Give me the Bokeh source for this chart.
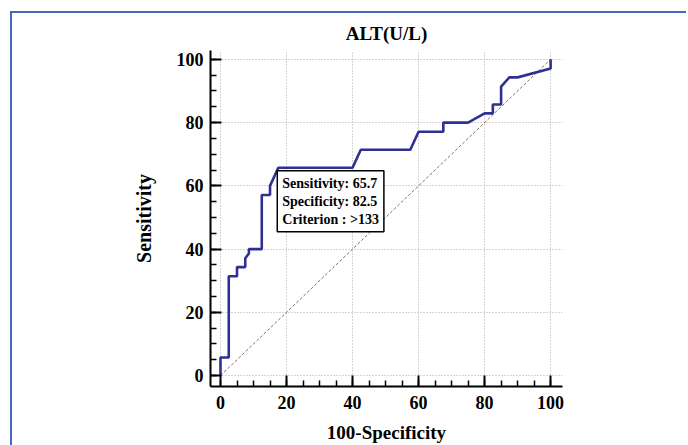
from bokeh.plotting import figure
from bokeh.models import SingleIntervalTicker, Label, Range1d
from bokeh.embed import file_html
from bokeh.resources import INLINE

# ROC curve for ALT(U/L): 100-Specificity (x) vs Sensitivity (y)
fpr = [0, 0, 2.5, 2.5, 5, 5, 7.5, 7.5, 8.6, 8.6, 12.5, 12.5, 15, 15, 17.5,
       40, 42.5, 57.5, 60, 67.5, 67.5, 75, 80, 82.5, 82.5, 85, 85, 87.5, 90, 100, 100]
tpr = [0, 5.7, 5.7, 31.4, 31.4, 34.3, 34.3, 37.1, 38.6, 40, 40, 57.1, 57.1, 60, 65.7,
       65.7, 71.4, 71.4, 77.1, 77.1, 80, 80, 82.9, 82.9, 85.7, 85.7, 91.4, 94.3, 94.3, 97.1, 100]
chance_x = [0, 100]
chance_y = [0, 100]

crit_x = 17.5
crit_y = 65.7
crit_text = "Sensitivity: 65.7\nSpecificity: 82.5\nCriterion : >133"

title_text = "ALT(U/L)"
x_label = "100-Specificity"
y_label = "Sensitivity"

SERIF = "Liberation Serif"

p = figure(width=686, height=445, output_backend="svg", toolbar_location=None,
           x_range=Range1d(-3.03, 103.6), y_range=Range1d(-3.46, 102.8),
           min_border_left=210, min_border_right=124, min_border_top=50, min_border_bottom=57)

p.styles = {
    "vertical-align": "top",
    "background-image": "linear-gradient(#4468bb, #4468bb), linear-gradient(#4468bb, #4468bb)",
    "background-position": "10px 11px, 10px 11px",
    "background-size": "2000px 2px, 2px 2000px",
    "background-repeat": "no-repeat",
}

p.title.text = title_text
p.title.align = "center"
p.title.text_font = SERIF
p.title.text_font_style = "bold"
p.title.text_font_size = "19px"
p.title.text_color = "black"
p.title.standoff = 14

p.outline_line_color = None
p.background_fill_color = "white"
p.border_fill_color = None

for ax in (p.xaxis[0], p.yaxis[0]):
    ax.ticker = SingleIntervalTicker(interval=20, num_minor_ticks=4)
    ax.axis_line_color = "black"
    ax.axis_line_width = 2
    ax.major_tick_in = 11
    ax.major_tick_out = 0
    ax.major_tick_line_width = 2
    ax.major_tick_line_color = "black"
    ax.minor_tick_in = 6
    ax.minor_tick_out = 0
    ax.minor_tick_line_width = 1.5
    ax.minor_tick_line_color = "black"
    ax.major_label_text_font = SERIF
    ax.major_label_text_font_style = "bold"
    ax.major_label_text_font_size = "18px"
    ax.major_label_text_color = "black"
    ax.axis_label_text_font = SERIF
    ax.axis_label_text_font_style = "bold"
    ax.axis_label_text_font_size = "20px"
    ax.axis_label_text_color = "black"

p.xaxis.axis_label = x_label
p.yaxis.axis_label = y_label
p.xaxis.axis_label_text_font_size = "19px"
p.xaxis.major_label_standoff = 9
p.xaxis.axis_label_standoff = 10
p.yaxis.major_label_standoff = 7
p.yaxis.axis_label_standoff = 19

for g in (p.xgrid[0], p.ygrid[0]):
    g.ticker = SingleIntervalTicker(interval=20)
    g.grid_line_color = "#b0a8a8"
    g.grid_line_dash = "1 2"
    g.grid_line_width = 1

p.line(chance_x, chance_y, line_color="#8a6a6a", line_width=1, line_dash="3 2")
p.line(fpr, tpr, line_color="#2e3192", line_width=2.6)

lbl = Label(x=crit_x, y=crit_y, text=crit_text, x_offset=-1, y_offset=-3,
            text_align="left", text_baseline="top",
            text_font=SERIF, text_font_style="bold", text_font_size="14px",
            text_line_height=1.2, text_color="black",
            background_fill_color="white", border_line_color="black",
            border_line_width=1.5, padding=5)
p.add_layout(lbl)

open("out.html", "w").write(file_html(p, INLINE))
